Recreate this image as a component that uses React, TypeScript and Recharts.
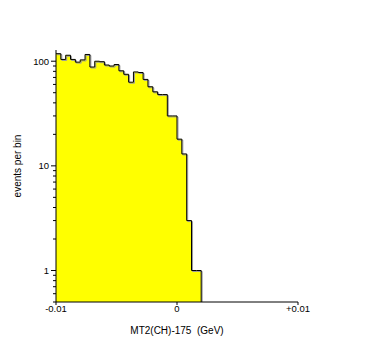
import { Area, ComposedChart, XAxis, YAxis } from "recharts";

// histogram: bins of width 0.0004 starting at -0.01
const binStart = -0.01;
const binWidth = 0.0004;
const binCounts = [
  118, 104, 114, 104, 98, 103, 116, 88, 100, 99,
  92, 90, 93, 81, 75, 63, 79, 78, 67, 57,
  51, 48, 48, 30, 30, 18, 13, 3, 1, 1,
];

const xTicks = [-0.01, 0, 0.01];
const xTickLabels = ["-0.01", "0", "+0.01"];
const yMajorTicks = [1, 10, 100];
const yTicks = [
  0.5, 0.6, 0.7, 0.8, 0.9, 1, 2, 3, 4, 5, 6, 7, 8, 9, 10,
  20, 30, 40, 50, 60, 70, 80, 90, 100,
];

const FONT = "'Liberation Sans', Arial, sans-serif";

// stepAfter points: each bin's left edge, then a drop to the floor at the end
const data = [
  ...binCounts.map((v, i) => ({ x: binStart + i * binWidth, y: v })),
  { x: binStart + binCounts.length * binWidth, y: 0.5 },
];

const YTick = (props: any) => {
  const { x, y, payload } = props;
  const major = yMajorTicks.includes(payload.value);
  return (
    <g>
      <line x1={x - (major ? 5 : 3)} x2={x} y1={y} y2={y} stroke="#000" strokeWidth={1} />
      {major && (
        <text x={x - 7} y={y} dy={3.5} textAnchor="end" fontSize={9.5} fontFamily={FONT} fill="#000">
          {payload.value}
        </text>
      )}
    </g>
  );
};

const XTick = (props: any) => {
  const { x, y, payload } = props;
  const idx = xTicks.indexOf(payload.value);
  return (
    <g>
      <line x1={x} x2={x} y1={y} y2={y + 3} stroke="#000" strokeWidth={1} />
      <text x={x} y={y + 10} textAnchor="middle" fontSize={9.5} fontFamily={FONT} fill="#000">
        {xTickLabels[idx]}
      </text>
    </g>
  );
};

const App = () => {
  return (
    <div style={{ position: "absolute", left: 0, top: 0, width: 374, height: 356, background: "#fff" }}>
      <style>{`.hist .recharts-area-curve { filter: drop-shadow(1px 1px 0 #9a9a9a); }`}</style>
      <ComposedChart
        width={374}
        height={356}
        data={data}
        margin={{ top: 50, right: 76, bottom: 24, left: 0 }}
      >
        <XAxis
          dataKey="x"
          type="number"
          domain={[-0.01, 0.01]}
          ticks={xTicks}
          allowDataOverflow
          height={30}
          axisLine={{ stroke: "#000" }}
          tickLine={false}
          tickSize={0}
          tickMargin={0}
          tick={<XTick />}
          label={{
            content: (p: any) => (
              <text
                x={p.viewBox.x + p.viewBox.width / 2}
                y={334}
                textAnchor="middle"
                fontSize={10}
                fontFamily={FONT}
                fill="#000"
                style={{ whiteSpace: "pre" }}
              >
                {"MT2(CH)-175  (GeV)"}
              </text>
            ),
          }}
        />
        <YAxis
          type="number"
          scale="log"
          domain={[0.5, 128]}
          ticks={yTicks}
          allowDataOverflow
          width={56}
          axisLine={{ stroke: "#000" }}
          tickLine={false}
          tickSize={0}
          tickMargin={0}
          tick={<YTick />}
          interval={0}
          label={{
            content: () => (
              <text
                x={18}
                y={166}
                transform="rotate(-90 18 166)"
                textAnchor="middle"
                dy={3}
                fontSize={10}
                fontFamily={FONT}
                fill="#000"
              >
                events per bin
              </text>
            ),
          }}
        />
        <Area
          className="hist"
          type="stepAfter"
          dataKey="y"
          stroke="#000"
          strokeWidth={1}
          fill="#ffff00"
          fillOpacity={1}
          baseValue="dataMin"
          dot={false}
          activeDot={false}
          isAnimationActive={false}
        />
      </ComposedChart>
    </div>
  );
};

export default App;
